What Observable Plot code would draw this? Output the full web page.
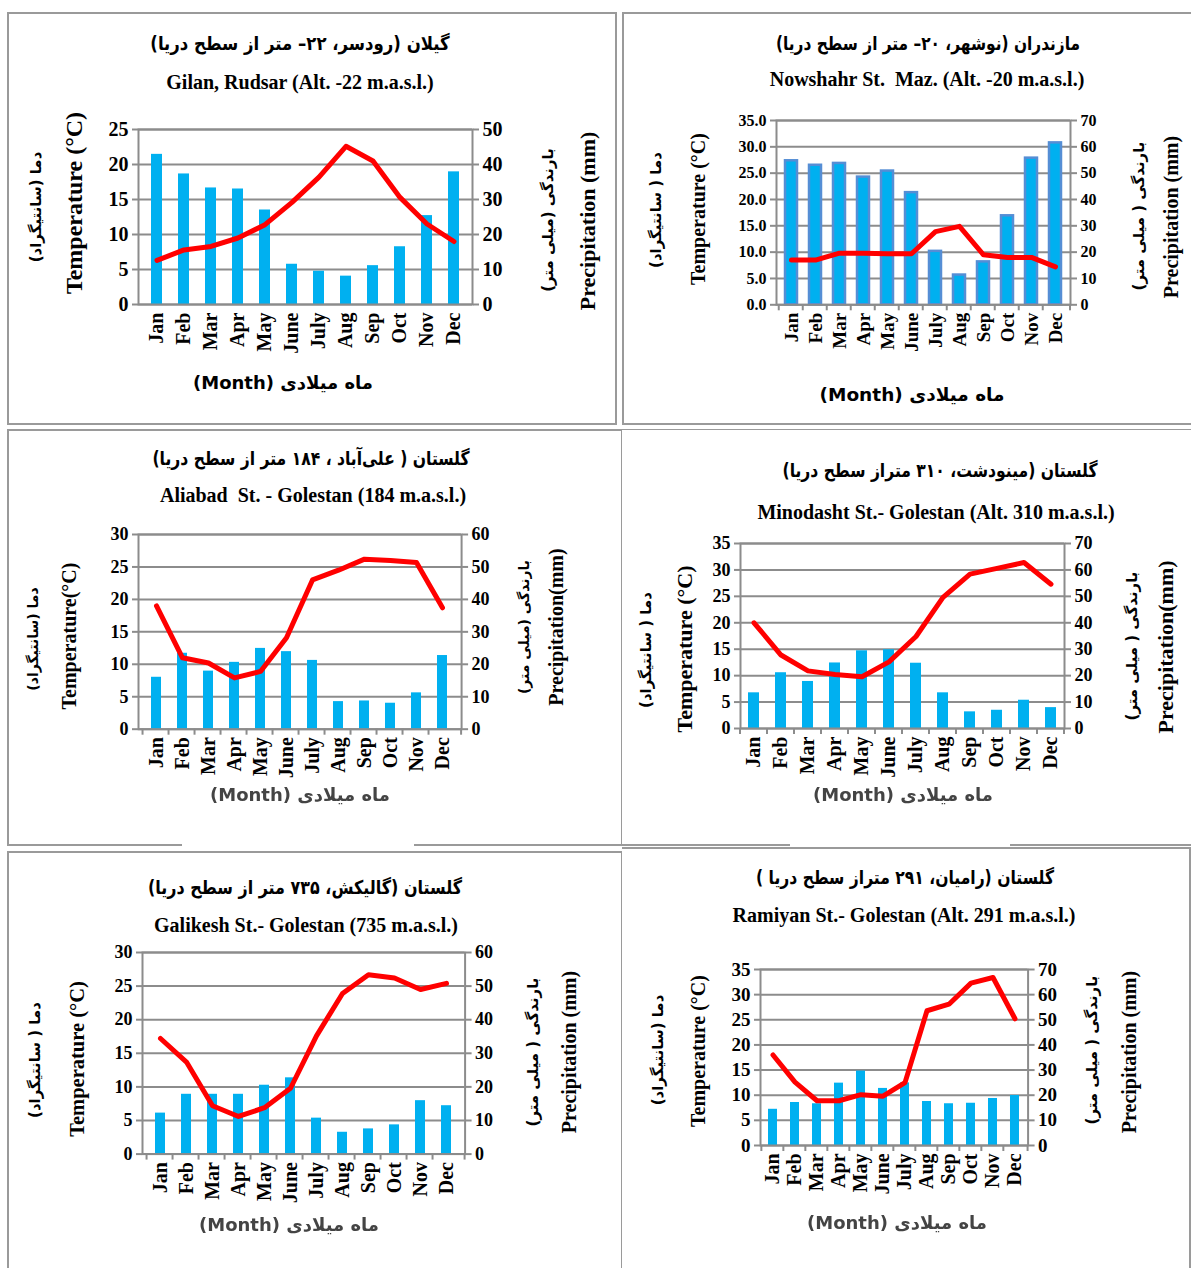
<!DOCTYPE html>
<html><head><meta charset="utf-8">
<script src="https://cdn.jsdelivr.net/npm/d3@7"></script>
<script src="https://cdn.jsdelivr.net/npm/@observablehq/plot@0.6"></script>
<style>
body{margin:0;background:#fff;}
#page{position:relative;width:1191px;height:1268px;overflow:hidden;background:#fff;font-family:"Liberation Serif","DejaVu Sans",serif;}
.t{position:absolute;white-space:pre;transform:translate(-50%,-50%);font-weight:bold;color:#000;line-height:1;}
.r{transform:translate(-50%,-50%) rotate(-90deg);}
.fa{font-family:"DejaVu Sans",sans-serif;}
.b{position:absolute;background:#9a9a9a;}
.plot{position:absolute;}
</style></head><body><div id="page"></div>
<script>
const months = ["Jan","Feb","Mar","Apr","May","June","July","Aug","Sep","Oct","Nov","Dec"];

// Gilan, Rudsar
const rudsarTemp   = [6.3, 7.8, 8.3, 9.5, 11.4, 14.6, 18.2, 22.6, 20.5, 15.3, 11.5, 9.0];
const rudsarPrecip = [42.9, 37.3, 33.3, 33.0, 27.0, 11.5, 9.5, 8.1, 11.1, 16.5, 25.4, 37.9];
// Nowshahr
const nowshahrTemp   = [8.5, 8.5, 9.8, 9.8, 9.7, 9.7, 13.9, 14.9, 9.5, 9.0, 9.0, 7.2];
const nowshahrPrecip = [54.7, 53.0, 53.7, 48.5, 50.8, 42.6, 20.3, 11.3, 16.3, 33.8, 55.7, 61.5];
// Aliabad
const aliabadTemp   = [19.0, 11.0, 10.2, 7.9, 8.9, 14.1, 23.0, 24.5, 26.2, 26.0, 25.7, 18.7];
const aliabadPrecip = [16.0, 23.4, 17.9, 20.6, 24.9, 23.9, 21.2, 8.5, 8.7, 8.0, 11.2, 22.7];
// Minodasht
const minodashtTemp   = [20.0, 13.9, 10.9, 10.2, 9.8, 12.6, 17.4, 24.8, 29.2, 30.3, 31.4, 27.3];
const minodashtPrecip = [13.5, 21.1, 17.8, 24.8, 29.4, 29.8, 24.7, 13.5, 6.3, 6.9, 10.7, 7.9];
// Galikesh
const galikeshTemp   = [17.2, 13.7, 7.2, 5.6, 6.9, 9.8, 17.6, 23.9, 26.7, 26.2, 24.5, 25.4];
const galikeshPrecip = [12.2, 17.8, 17.8, 17.8, 20.5, 22.7, 10.7, 6.5, 7.5, 8.7, 15.9, 14.4];
// Ramiyan
const ramiyanTemp   = [18.0, 12.6, 8.9, 8.9, 10.1, 9.8, 12.5, 26.8, 28.1, 32.3, 33.4, 25.2];
const ramiyanPrecip = [14.4, 17.1, 16.6, 24.8, 29.6, 22.7, 24.9, 17.5, 16.6, 16.8, 18.7, 19.9];

const tempTicks25 = [0, 5, 10, 15, 20, 25];
const tempTicks30 = [0, 5, 10, 15, 20, 25, 30];
const tempTicks35 = [0, 5, 10, 15, 20, 25, 30, 35];
const precipTicks50 = [0, 10, 20, 30, 40, 50];
const precipTicks60 = [0, 10, 20, 30, 40, 50, 60];
const precipTicks70 = [0, 10, 20, 30, 40, 50, 60, 70];

const monthTitle = "ماه میلادی (Month)";

const panels = [
  {temp: rudsarTemp, precip: rudsarPrecip, tTicks: tempTicks25, pTicks: precipTicks50, tFmt: d3.format("d"),
   frame: [137.8, 129.3, 471.8, 304.3], padIn: 0.59, tickFont: 20, monthFont: 20, boundary: false, barStroke: null,
   fa: "گیلان (رودسر، ۲۲– متر از سطح دریا)", faPos: [300, 43], faSize: 19, faSx: 0.87,
   en: "Gilan, Rudsar (Alt. -22 m.a.s.l.)", enPos: [300, 82], enSize: 20,
   tLab: "Temperature (°C)", tLabPos: [74, 203], tLabSize: 24,
   tFa: "دما (سانتیگراد)", tFaPos: [36, 207], faAxSize: 15,
   pFa: "بارندگی (میلی متر)", pFaPos: [548, 220],
   pLab: "Precipitation (mm)", pLabPos: [588, 221], pLabSize: 22,
   mPos: [283, 383], mSize: 18, mBlur: false},
  {temp: nowshahrTemp, precip: nowshahrPrecip, tTicks: tempTicks35, pTicks: precipTicks70, tFmt: d3.format(".1f"),
   frame: [776.4, 120, 1070.4, 304.3], padIn: 0.48, tickFont: 16, monthFont: 19, boundary: true, barStroke: "#558ed5",
   fa: "مازندران (نوشهر، ۲۰– متر از سطح دریا)", faPos: [928, 43], faSize: 19, faSx: 0.81,
   en: "Nowshahr St.  Maz. (Alt. -20 m.a.s.l.)", enPos: [927, 79], enSize: 20,
   tLab: "Temperature (°C)", tLabPos: [698, 209], tLabSize: 20,
   tFa: "دما ( سانتیگراد)", tFaPos: [656, 210], faAxSize: 15,
   pFa: "بارندگی ( میلی متر)", pFaPos: [1139, 216],
   pLab: "Precipitation (mm)", pLabPos: [1171, 217], pLabSize: 20,
   mPos: [912, 395], mSize: 18.5, mBlur: false},
  {temp: aliabadTemp, precip: aliabadPrecip, tTicks: tempTicks30, pTicks: precipTicks60, tFmt: d3.format("d"),
   frame: [137.7, 534, 460.8, 728.7], padIn: 0.6, tickFont: 18, monthFont: 20, boundary: true, barStroke: null,
   fa: "گلستان ( علی‌آباد ، ۱۸۴ متر از سطح دریا)", faPos: [311, 458], faSize: 19, faSx: 0.82,
   en: "Aliabad  St. - Golestan (184 m.a.s.l.)", enPos: [313, 495], enSize: 20,
   tLab: "Temperature(°C)", tLabPos: [69, 636], tLabSize: 20,
   tFa: "دما (سانتیگراد)", tFaPos: [33, 639], faAxSize: 14,
   pFa: "بارندگی (میلی متر)", pFaPos: [524, 627],
   pLab: "Precipitation(mm)", pLabPos: [556, 627], pLabSize: 20,
   mPos: [300, 795], mSize: 18, mBlur: true},
  {temp: minodashtTemp, precip: minodashtPrecip, tTicks: tempTicks35, pTicks: precipTicks70, tFmt: d3.format("d"),
   frame: [739.5, 542.7, 1063.5, 727.7], padIn: 0.6, tickFont: 18, monthFont: 20, boundary: true, barStroke: null,
   fa: "گلستان (مینودشت، ۳۱۰ متراز سطح دریا)", faPos: [940, 470], faSize: 19, faSx: 0.82,
   en: "Minodasht St.- Golestan (Alt. 310 m.a.s.l.)", enPos: [936, 512], enSize: 20,
   tLab: "Temperature (°C)", tLabPos: [685, 649], tLabSize: 22,
   tFa: "دما ( سانتیگراد)", tFaPos: [646, 650], faAxSize: 15,
   pFa: "بارندگی ( میلی متر)", pFaPos: [1132, 646],
   pLab: "Precipitation(mm)", pLabPos: [1166, 647], pLabSize: 22,
   mPos: [903, 795], mSize: 18, mBlur: true},
  {temp: galikeshTemp, precip: galikeshPrecip, tTicks: tempTicks30, pTicks: precipTicks60, tFmt: d3.format("d"),
   frame: [142.1, 951.7, 464.7, 1153.3], padIn: 0.6, tickFont: 18, monthFont: 20, boundary: true, barStroke: null,
   fa: "گلستان (گالیکش، ۷۳۵ متر از سطح دریا)", faPos: [305, 887], faSize: 19, faSx: 0.84,
   en: "Galikesh St.- Golestan (735 m.a.s.l.)", enPos: [306, 925], enSize: 20,
   tLab: "Temperature (°C)", tLabPos: [77, 1059], tLabSize: 20.5,
   tFa: "دما ( سانتیگراد)", tFaPos: [35, 1060], faAxSize: 15,
   pFa: "بارندگی ( میلی متر)", pFaPos: [533, 1052],
   pLab: "Precipitation (mm)", pLabPos: [569, 1052], pLabSize: 20,
   mPos: [289, 1225], mSize: 18, mBlur: true},
  {temp: ramiyanTemp, precip: ramiyanPrecip, tTicks: tempTicks35, pTicks: precipTicks70, tFmt: d3.format("d"),
   frame: [760.3, 969, 1027.9, 1145], padIn: 0.6, tickFont: 19, monthFont: 20, boundary: true, barStroke: null,
   fa: "گلستان (رامیان، ۲۹۱ متراز سطح دریا )", faPos: [905, 877], faSize: 19, faSx: 0.82,
   en: "Ramiyan St.- Golestan (Alt. 291 m.a.s.l.)", enPos: [904, 915], enSize: 20,
   tLab: "Temperature (°C)", tLabPos: [698, 1051], tLabSize: 20,
   tFa: "دما (سانتیگراد)", tFaPos: [658, 1050], faAxSize: 15,
   pFa: "بارندگی ( میلی متر)", pFaPos: [1092, 1050],
   pLab: "Precipitation (mm)", pLabPos: [1129, 1052], pLabSize: 20,
   mPos: [897, 1223], mSize: 18, mBlur: true}
];

const page = document.getElementById("page");

function addText(txt, pos, size, opts = {}) {
  const d = document.createElement("div");
  d.className = "t" + (opts.rot ? " r" : "") + (opts.fa ? " fa" : "");
  if (opts.fa) d.dir = "rtl";
  d.textContent = txt;
  d.style.left = pos[0] + "px";
  d.style.top = pos[1] + "px";
  d.style.fontSize = size + "px";
  if (opts.sx) d.style.transform = `translate(-50%,-50%) scaleX(${opts.sx})`;
  if (opts.blur) { d.style.color = "#444"; d.style.filter = "blur(0.7px)"; }
  page.appendChild(d);
}
function addBorder(x, y, w, h) {
  const d = document.createElement("div");
  d.className = "b";
  Object.assign(d.style, {left: x + "px", top: y + "px", width: w + "px", height: h + "px"});
  page.appendChild(d);
}

// panel borders
addBorder(7, 12, 610, 2); addBorder(7, 12, 2, 413); addBorder(615, 12, 2, 413); addBorder(7, 423, 610, 2);
addBorder(622, 12, 569, 2); addBorder(622, 12, 2, 413); addBorder(622, 423, 569, 2);
addBorder(7, 429, 615, 2); addBorder(7, 429, 2, 416); addBorder(621, 429, 1, 416);
addBorder(7, 844, 175, 2); addBorder(414, 844, 208, 2);
addBorder(622, 429, 569, 1); addBorder(622, 844, 168, 2); addBorder(1010, 844, 181, 2);
addBorder(622, 847, 569, 2);
addBorder(7, 851, 615, 2); addBorder(7, 851, 2, 417); addBorder(621, 851, 1, 417); addBorder(1189, 847, 2, 421);

const ML = 70, MR = 70, MT = 12, MB = 80;
const gray = "#8c8c8c";

panels.forEach(p => {
  const [fl, ft, fr, fb] = p.frame;
  const width = (fr - fl) + ML + MR;
  const height = (fb - ft) + MT + MB;
  const ymax = p.tTicks[p.tTicks.length - 1];
  const data = months.map((m, i) => ({month: m, temp: p.temp[i], precip: p.precip[i]}));
  const chart = Plot.plot({
    width, height,
    marginLeft: ML, marginRight: MR, marginTop: MT, marginBottom: MB,
    style: {fontFamily: "Liberation Serif, serif", fontWeight: "bold", color: "#000", background: "transparent", overflow: "visible"},
    x: {domain: months, paddingInner: p.padIn, paddingOuter: p.padIn / 2, axis: null},
    y: {domain: [0, ymax], axis: null},
    marks: [
      Plot.gridY(p.tTicks, {stroke: gray, strokeOpacity: 1, strokeWidth: 2}),
      Plot.barY(data, {x: "month", y: d => d.precip / 2, fill: "#00b0f0",
        stroke: p.barStroke || undefined, strokeWidth: p.barStroke ? 2.5 : undefined}),
      Plot.line(data, {x: "month", y: "temp", stroke: "#ff0000", strokeWidth: 5, strokeLinejoin: "round", strokeLinecap: "round"}),
      Plot.frame({stroke: gray, strokeWidth: 2, fill: "none"}),
      Plot.axisY(p.tTicks, {anchor: "left", label: null, tickSize: 6, tickPadding: 4, stroke: gray, strokeWidth: 2,
        tickFormat: p.tFmt, fontSize: p.tickFont, fontWeight: "bold"}),
      Plot.axisY(p.pTicks.map(v => v / 2), {anchor: "right", label: null, tickSize: 6, tickPadding: 4, stroke: gray, strokeWidth: 2,
        tickFormat: d => d3.format("d")(d * 2), fontSize: p.tickFont, fontWeight: "bold"}),
      Plot.axisX(months, {anchor: "bottom", label: null, tickSize: 0, tickPadding: 8, tickRotate: -90,
        fontSize: p.monthFont, fontWeight: "bold"})
    ]
  });
  chart.classList.add("plot");
  chart.style.left = (fl - ML) + "px";
  chart.style.top = (ft - MT) + "px";
  page.appendChild(chart);

  if (p.boundary) {
    const xs = chart.scale("x");
    const ys = chart.scale("y");
    const [r0, r1] = xs.range;
    const stepPx = (r1 - r0) / months.length;
    const edges = months.map(m => xs.apply(m) + xs.bandwidth / 2 - stepPx / 2).concat([r1]);
    const y0 = ys.apply(0);
    d3.select(chart).append("g").attr("stroke", gray).attr("stroke-width", 2)
      .selectAll("line").data(edges).join("line")
      .attr("x1", d => d).attr("x2", d => d).attr("y1", y0).attr("y2", y0 + 6);
  }

  addText(p.fa, p.faPos, p.faSize, {fa: true, sx: p.faSx});
  addText(p.en, p.enPos, p.enSize);
  addText(p.tLab, p.tLabPos, p.tLabSize, {rot: true});
  addText(p.tFa, p.tFaPos, p.faAxSize, {rot: true, fa: true});
  addText(p.pFa, p.pFaPos, p.faAxSize, {rot: true, fa: true});
  addText(p.pLab, p.pLabPos, p.pLabSize, {rot: true});
  addText(monthTitle, p.mPos, p.mSize, {fa: true, blur: p.mBlur});
});
</script></body></html>
